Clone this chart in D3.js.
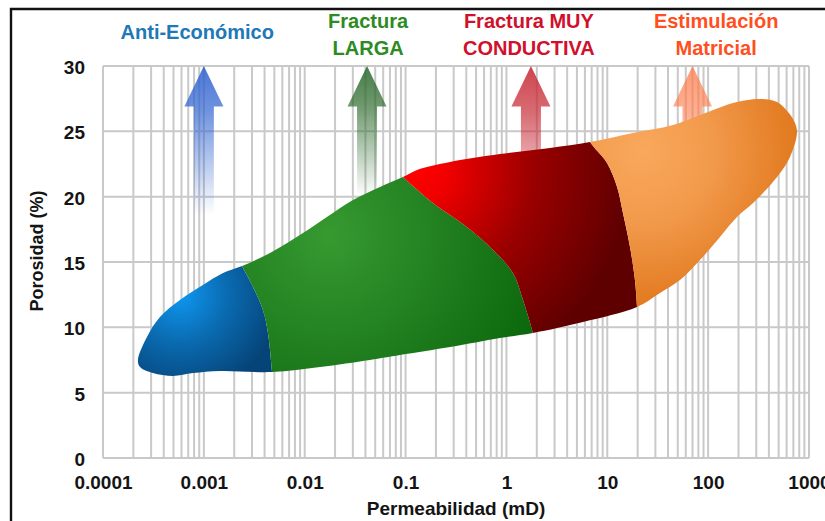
<!DOCTYPE html>
<html><head><meta charset="utf-8">
<script src="https://cdn.jsdelivr.net/npm/d3@7"></script>
<style>html,body{margin:0;padding:0;background:#fff;overflow:hidden}svg{display:block;font-family:"Liberation Sans",Arial,sans-serif}</style>
</head><body><svg id="chart" width="825" height="521"></svg>
<script>
// ---------- DATA ----------
const xTickValues = [0.0001, 0.001, 0.01, 0.1, 1, 10, 100, 1000];
const xTickLabels = ["0.0001", "0.001", "0.01", "0.1", "1", "10", "100", "1000"];
const yTickValues = [0, 5, 10, 15, 20, 25, 30];
const xTitle = "Permeabilidad (mD)";
const yTitle = "Porosidad (%)";

const zoneNames = [["Anti-Económico"], ["Fractura", "LARGA"], ["Fractura MUY", "CONDUCTIVA"], ["Estimulación", "Matricial"]];
const zoneLabelPerm = [0.00086, 0.0425, 1.67, 120];
const arrowPerm = [0.001, 0.0415, 1.75, 70];
const arrowTopPor = [30, 30, 30, 30];
const arrowHeadPor = [26.9, 26.9, 26.9, 26.9];
const arrowBottomPor = [18.6, 20.0, 18.0, 18.0];

// blob outline (permeability mD, porosity %), left tip -> top -> right tip -> bottom
const outline = [
  [2.22e-4, 7.50], [2.73e-4, 9.26], [3.67e-4, 10.79], [5.79e-4, 12.09], [9.79e-4, 13.24],
  [1.55e-3, 14.16], [2.39e-3, 14.69], [4.53e-3, 15.69], [9.62e-3, 17.22], [0.0166, 18.44],
  [0.0301, 19.74], [0.0557, 20.74], [0.0942, 21.50], [0.130, 22.04], [0.276, 22.65],
  [0.863, 23.26], [2.70, 23.72], [6.74, 24.18], [18.0, 24.87], [44.8, 25.48],
  [112, 26.63], [176, 27.17], [327, 27.47], [482, 27.24], [619, 26.48],
  [726, 25.64], [760, 24.87], [648, 23.04], [482, 21.50], [279, 19.51],
  [193, 18.44], [131, 16.91], [83.0, 15.15], [52.6, 13.62], [33.3, 12.63],
  [19.7, 11.56], [5.74, 10.41], [1.83, 9.57], [0.863, 9.18], [0.276, 8.49],
  [0.0881, 7.88], [0.0443, 7.50], [0.0142, 6.96], [4.74e-3, 6.58], [1.45e-3, 6.66],
  [7.80e-4, 6.50], [4.94e-4, 6.28], [3.13e-4, 6.50], [2.33e-4, 6.96]
];
// zone dividers (top -> bottom)
const dividerBlueGreen = [[1.90e-3, 16.22], [2.39e-3, 14.69], [3.07e-3, 13.09], [3.85e-3, 11.33], [4.32e-3, 9.57], [4.74e-3, 6.58], [4.95e-3, 4.82]];
const dividerGreenRed = [[0.0702, 22.42], [0.0942, 21.50], [0.187, 19.51], [0.406, 17.68], [0.736, 15.92], [1.16, 14.16], [1.46, 12.09], [1.83, 9.57], [2.06, 7.88]];
const dividerRedOrange = [[5.61, 25.48], [6.74, 24.18], [9.93, 22.58], [12.5, 20.74], [14.3, 18.75], [16.8, 16.15], [18.8, 13.62], [19.7, 11.56], [20.2, 9.80]];
const leftEdge = [[1e-6, 40], [1e-6, -5]];
const rightEdge = [[1e4, 40], [1e4, -5]];

// ---------- STYLE ----------
const titleColors = ["#2078b6", "#2e8a22", "#d0102c", "#ff4f1f"];
const arrowColors = ["#2f62d0", "#2d6a2d", "#c72a35", "#ff7a48"];

// ---------- CHART ----------
const svg = d3.select("#chart");
const x = d3.scaleLog().domain([1e-4, 1e3]).range([103, 809]);
const y = d3.scaleLinear().domain([0, 30]).range([458, 66]);
const defs = svg.append("defs");

// frame
svg.append("path").attr("d", "M11,530 L11,9 L830,9").attr("fill", "none").attr("stroke", "#111").attr("stroke-width", 2.4);

// grid
const gridX = [];
for (let d = -4; d <= 2; d++) for (let k = 1; k <= 9; k++) gridX.push(k * Math.pow(10, d));
gridX.push(1000);
const grid = svg.append("g").attr("stroke", "#c9c9c9").attr("stroke-width", 2);
grid.selectAll("line.v").data(gridX).join("line").attr("class", "v")
  .attr("x1", d => x(d)).attr("x2", d => x(d)).attr("y1", y(0)).attr("y2", y(30));
grid.selectAll("line.h").data(yTickValues).join("line").attr("class", "h")
  .attr("x1", x(1e-4)).attr("x2", x(1000)).attr("y1", d => y(d)).attr("y2", d => y(d));

// arrows
arrowPerm.forEach((p, i) => {
  const cx = x(p), yt = y(arrowTopPor[i]), yh = y(arrowHeadPor[i]), yb = y(arrowBottomPor[i]);
  const g = defs.append("linearGradient").attr("id", "ag" + i).attr("gradientUnits", "userSpaceOnUse")
    .attr("x1", 0).attr("x2", 0).attr("y1", yt).attr("y2", yb);
  g.append("stop").attr("offset", 0).attr("stop-color", arrowColors[i]).attr("stop-opacity", 0.95);
  g.append("stop").attr("offset", 0.3).attr("stop-color", arrowColors[i]).attr("stop-opacity", 0.75);
  g.append("stop").attr("offset", 1).attr("stop-color", arrowColors[i]).attr("stop-opacity", 0);
  const hw = 19.5, sw = 10;
  svg.append("path")
    .attr("d", `M${cx},${yt} L${cx + hw},${yh} L${cx + sw},${yh} L${cx + sw},${yb} L${cx - sw},${yb} L${cx - sw},${yh} L${cx - hw},${yh} Z`)
    .attr("fill", `url(#ag${i})`).attr("opacity", i === 3 ? 0.8 : 0.92);
});

// blob
const px = d => [x(d[0]), y(d[1])];
const closedLine = d3.line().curve(d3.curveCatmullRomClosed.alpha(0.5));
const openLine = d3.line().curve(d3.curveCatmullRom.alpha(0.5));
defs.append("clipPath").attr("id", "blobClip").append("path").attr("d", closedLine(outline.map(px)));

const bounds = [leftEdge, dividerBlueGreen, dividerGreenRed, dividerRedOrange, rightEdge];
const grads = [
  { c: [5.8e-4, 12.5], r: 100, stops: [[0, "#0e97f0"], [0.5, "#0a69ae"], [1, "#054478"]] },
  { c: [0.0175, 17.0], r: 230, stops: [[0, "#369a30"], [0.5, "#217f20"], [1, "#0a660a"]] },
  { c: [0.125, 22.0], r: 215, stops: [[0, "#ff0000"], [0.15, "#f00000"], [0.55, "#9a0000"], [1, "#5e0000"]] },
  { c: [22, 23.5], r: 175, stops: [[0, "#f9a85c"], [0.4, "#f29a4c"], [1, "#de7214"]] }
];
const zones = svg.append("g").attr("clip-path", "url(#blobClip)");
grads.forEach((gd, i) => {
  const [gx, gy] = px(gd.c);
  const rg = defs.append("radialGradient").attr("id", "zg" + i).attr("gradientUnits", "userSpaceOnUse")
    .attr("cx", gx).attr("cy", gy).attr("r", gd.r);
  gd.stops.forEach(s => rg.append("stop").attr("offset", s[0]).attr("stop-color", s[1]));
  const left = bounds[i].map(px);
  const right = bounds[i + 1].map(px).reverse();
  const d = openLine(left) + openLine(right).replace(/^M/, "L") + "Z";
  zones.append("path").attr("d", d).attr("fill", `url(#zg${i})`);
});

// axes
const fs = 19;
const xAxis = svg.append("g").attr("transform", `translate(0,${y(0)})`)
  .call(d3.axisBottom(x).tickValues(xTickValues).tickFormat((d, i) => xTickLabels[i]).tickSize(0).tickPadding(17.5));
const yAxis = svg.append("g").attr("transform", `translate(${x(1e-4)},0)`)
  .call(d3.axisLeft(y).tickValues(yTickValues).tickFormat(d3.format("d")).tickSize(0).tickPadding(18));
[xAxis, yAxis].forEach(a => {
  a.select(".domain").remove();
  a.attr("font-family", null).attr("font-size", null);
  a.selectAll("text").attr("font-size", fs).attr("font-weight", "bold").attr("fill", "#141414");
});
yAxis.selectAll("text").attr("dy", "0.4em");

svg.append("text").attr("x", (x(1e-4) + x(1000)) / 2).attr("y", 515).attr("text-anchor", "middle")
  .attr("font-size", 19).attr("font-weight", "bold").attr("fill", "#141414").text(xTitle);
svg.append("text").attr("transform", `translate(43,251) rotate(-90)`).attr("text-anchor", "middle")
  .attr("font-size", 18).attr("font-weight", "bold").attr("fill", "#141414").text(yTitle);

// zone titles
zoneNames.forEach((lines, i) => {
  const t = svg.append("text").attr("text-anchor", "middle").attr("font-size", 20).attr("font-weight", "bold")
    .attr("fill", titleColors[i]);
  const cx = x(zoneLabelPerm[i]);
  const base = lines.length === 1 ? 39 : 28;
  lines.forEach((s, j) => t.append("tspan").attr("x", cx).attr("y", base + j * 27).text(s));
});
</script></body></html>
